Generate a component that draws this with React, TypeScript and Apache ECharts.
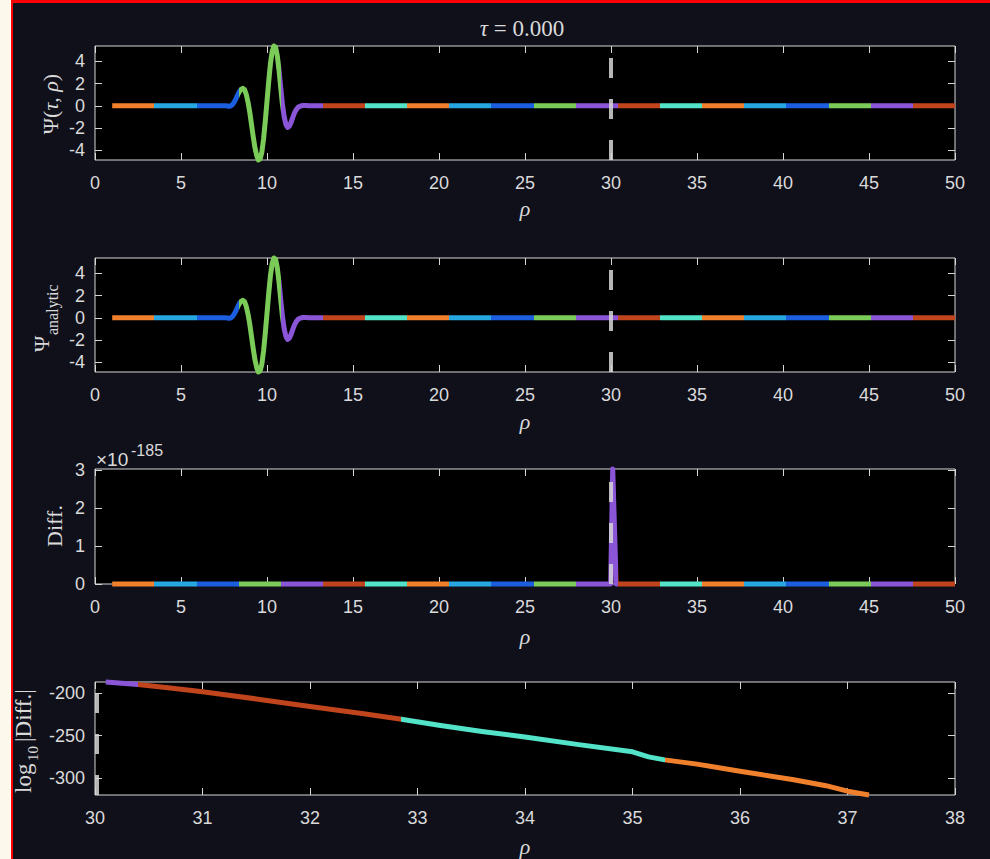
import React, { useEffect, useRef } from 'react';
import * as echarts from 'echarts';

// ---- data -------------------------------------------------------------

// radial grid for the wave packet (the field is flat outside 7.5 < rho < 12.4)
const waveRho = [
  1, 7.5, 7.6, 7.7, 7.8, 7.9, 8.0, 8.1, 8.2, 8.3, 8.4, 8.5, 8.6, 8.7, 8.8, 8.9,
  9.0, 9.1, 9.2, 9.3, 9.4, 9.5, 9.6, 9.7, 9.8, 9.9, 10.0, 10.1, 10.2, 10.3, 10.4,
  10.5, 10.6, 10.7, 10.8, 10.9, 11.0, 11.1, 11.2, 11.3, 11.4, 11.5, 11.6, 11.7,
  11.8, 11.9, 12.0, 12.1, 12.2, 12.3, 12.4, 50,
];
// numerical solution Psi(tau, rho) at tau = 0
const psiNumeric = [
  0, 0, 0, -0.02, -0.05, 0.0, 0.12, 0.35, 0.65, 1.0, 1.3, 1.5, 1.57, 1.45, 1.0, 0.3,
  -0.6, -1.7, -2.8, -3.8, -4.5, -4.9, -4.8, -4.2, -3.0, -1.4, 0.4, 2.2, 3.8, 4.9, 5.4,
  5.3, 4.5, 3.2, 1.6, 0.1, -1.0, -1.7, -1.95, -1.85, -1.5, -1.05, -0.65, -0.35,
  -0.15, -0.05, 0.0, 0.03, 0.03, 0.02, 0, 0,
];
// analytic solution (identical at tau = 0)
const psiAnalytic = [
  0, 0, 0, -0.02, -0.05, 0.0, 0.12, 0.35, 0.65, 1.0, 1.3, 1.5, 1.57, 1.45, 1.0, 0.3,
  -0.6, -1.7, -2.8, -3.8, -4.5, -4.9, -4.8, -4.2, -3.0, -1.4, 0.4, 2.2, 3.8, 4.9, 5.4,
  5.3, 4.5, 3.2, 1.6, 0.1, -1.0, -1.7, -1.95, -1.85, -1.5, -1.05, -0.65, -0.35,
  -0.15, -0.05, 0.0, 0.03, 0.03, 0.02, 0, 0,
];

// |numeric - analytic|, in units of 1e-185
const diffExponent = -185;
const diffRho = [1, 29.98, 30.1, 30.3, 50];
const diffValue = [0, 0, 3.02, 0, 0];

// log10 |Diff.| on the zoomed window 30 <= rho <= 38
const logRho = [
  30.1, 30.4, 30.7, 31.0, 31.5, 32.0, 32.5, 32.85, 33.2, 33.6, 34.0, 34.5, 35.0,
  35.15, 35.3, 35.6, 36.0, 36.5, 36.8, 37.0, 37.2,
];
const logValue = [
  -186.5, -189.5, -193.5, -198, -206.5, -215.5, -224, -230.5, -237.5, -245, -251.5,
  -260.5, -269, -275, -278.5, -283.5, -292, -302, -309, -315.5, -320,
];

// colour segments along rho
const segmentEdges = [
  1, 3.45, 5.9, 8.35, 10.8, 13.25, 15.7, 18.15, 20.6, 23.05, 25.5, 27.95, 30.4,
  32.85, 35.3, 37.75, 40.2, 42.65, 45.1, 47.55, 50,
];
const ORANGE = '#f0802c';
const SKY = '#27a7e2';
const BLUE = '#1c5ee0';
const GREEN = '#7acb58';
const PURPLE = '#8b55d8';
const RUST = '#c0441c';
const AQUA = '#52e3c9';
const segmentColors = [
  ORANGE, SKY, BLUE, GREEN, PURPLE, RUST, AQUA,
  ORANGE, SKY, BLUE, GREEN, PURPLE, RUST, AQUA,
  ORANGE, SKY, BLUE, GREEN, PURPLE, RUST,
];

// axis ticks
const rhoTicksWide = { min: 0, max: 50, interval: 5 };
const rhoTicksZoom = { min: 30, max: 38, interval: 1 };
const psiTicks = [-4, -2, 0, 2, 4];
const diffTicks = [0, 1, 2, 3];
const logTicks = [-300, -250, -200];
const markerRho = 30;

// ---- styling ----------------------------------------------------------

const SERIF = '"Liberation Serif", "DejaVu Serif", serif';
const SANS = '"Liberation Sans", Arial, sans-serif';
const AXIS_COLOR = '#d6d6d6';
const TEXT_COLOR = '#dadada';

const pairs = (xs: number[], ys: number[]) => xs.map((x, i) => [x, ys[i]]);

type Panel = {
  grid: { left: number; top: number; width: number; height: number };
  x: { min: number; max: number; interval: number };
  yMin: number;
  yMax: number;
  yTicks: number[];
  data: number[][];
  mark: number;
};

const panels: Panel[] = [
  {
    grid: { left: 95, top: 46, width: 860, height: 114 },
    x: rhoTicksWide, yMin: -4.9, yMax: 5.4, yTicks: psiTicks,
    data: pairs(waveRho, psiNumeric), mark: markerRho,
  },
  {
    grid: { left: 95, top: 258, width: 860, height: 114 },
    x: rhoTicksWide, yMin: -4.9, yMax: 5.4, yTicks: psiTicks,
    data: pairs(waveRho, psiAnalytic), mark: markerRho,
  },
  {
    grid: { left: 95, top: 469, width: 860, height: 115 },
    x: rhoTicksWide, yMin: 0, yMax: 3.02, yTicks: diffTicks,
    data: pairs(diffRho, diffValue), mark: markerRho,
  },
  {
    grid: { left: 95, top: 682, width: 860, height: 113 },
    x: rhoTicksZoom, yMin: -320, yMax: -186.5, yTicks: logTicks,
    data: pairs(logRho, logValue), mark: markerRho + 0.02,
  },
];

const labelStyle = { color: TEXT_COLOR, fontFamily: SANS, fontSize: 18 };
const innerTick = (extra: object = {}) => ({
  show: true, inside: true, length: 7, lineStyle: { color: AXIS_COLOR, width: 1 }, ...extra,
});
// the box is drawn by the grid border; axes stay on the box edges
const hiddenLine = { show: false, onZero: false };

function buildOption() {
  const grid = panels.map((p) => ({
    ...p.grid,
    show: true,
    backgroundColor: '#000000',
    borderColor: AXIS_COLOR,
    borderWidth: 1,
  }));

  const xAxis: any[] = [];
  const yAxis: any[] = [];
  panels.forEach((p, i) => {
    const xBase = {
      gridIndex: i, type: 'value', min: p.x.min, max: p.x.max, interval: p.x.interval,
      axisLine: hiddenLine, splitLine: { show: false },
    };
    xAxis.push({ ...xBase, position: 'bottom', axisTick: innerTick(), axisLabel: { ...labelStyle, margin: 14 } });
    xAxis.push({ ...xBase, position: 'top', axisTick: innerTick(), axisLabel: { show: false } });

    const yBase = {
      gridIndex: i, type: 'value', min: p.yMin, max: p.yMax,
      axisLine: hiddenLine, splitLine: { show: false },
    };
    yAxis.push({
      ...yBase, position: 'left',
      axisTick: innerTick({ customValues: p.yTicks }),
      axisLabel: { ...labelStyle, margin: 10, customValues: p.yTicks },
    });
    yAxis.push({
      ...yBase, position: 'right',
      axisTick: innerTick({ customValues: p.yTicks }),
      axisLabel: { show: false, customValues: p.yTicks },
    });
  });

  const series = panels.map((p, i) => ({
    type: 'line',
    xAxisIndex: 2 * i,
    yAxisIndex: 2 * i,
    data: p.data,
    symbol: 'none',
    showSymbol: false,
    clip: false,
    z: 3,
    lineStyle: { width: 5, cap: 'butt', join: 'round' },
    markLine: {
      silent: true,
      symbol: ['none', 'none'],
      label: { show: false },
      lineStyle: { color: 'rgba(214,214,214,0.85)', width: 4, type: [20, 21] },
      data: [{ xAxis: p.mark }],
    },
  }));

  const pieces = segmentColors.map((color, i) => ({
    gte: segmentEdges[i],
    ...(i === segmentColors.length - 1 ? { lte: segmentEdges[i + 1] } : { lt: segmentEdges[i + 1] }),
    color,
  }));

  const rhoLabel = (y: number) => ({
    type: 'text', x: 525, y,
    style: { text: 'ρ', fill: TEXT_COLOR, font: `italic 22px ${SERIF}`, align: 'center', verticalAlign: 'middle' },
  });

  const graphic: any[] = [
    {
      type: 'text', x: 522, y: 28,
      style: {
        text: '{i|τ}{u| = 0.000}',
        align: 'center', verticalAlign: 'middle',
        rich: {
          i: { fill: TEXT_COLOR, font: `italic 23px ${SERIF}` },
          u: { fill: TEXT_COLOR, font: `23px ${SERIF}` },
        },
      },
    },
    rhoLabel(208),
    rhoLabel(421),
    rhoLabel(636),
    rhoLabel(846),
    // Psi(tau, rho)
    {
      type: 'text', x: 50, y: 104, rotation: Math.PI / 2,
      style: {
        text: '{u|Ψ(}{i|τ}{u|, }{i|ρ}{u|)}',
        align: 'center', verticalAlign: 'middle',
        rich: {
          i: { fill: TEXT_COLOR, font: `italic 22px ${SERIF}` },
          u: { fill: TEXT_COLOR, font: `22px ${SERIF}` },
        },
      },
    },
    // Psi_analytic
    {
      type: 'group', x: 52, y: 352, rotation: Math.PI / 2,
      children: [
        { type: 'text', x: 0, y: 0, style: { text: 'Ψ', fill: TEXT_COLOR, font: `22px ${SERIF}`, align: 'left', verticalAlign: 'bottom' } },
        { type: 'text', x: 17, y: 8, style: { text: 'analytic', fill: TEXT_COLOR, font: `16px ${SERIF}`, align: 'left', verticalAlign: 'bottom' } },
      ],
    },
    // Diff.
    {
      type: 'text', x: 54, y: 526, rotation: Math.PI / 2,
      style: { text: 'Diff.', fill: TEXT_COLOR, font: `22px ${SERIF}`, align: 'center', verticalAlign: 'middle' },
    },
    // log10 |Diff.|
    {
      type: 'group', x: 35, y: 793, rotation: Math.PI / 2,
      children: [
        { type: 'text', x: 0, y: 0, style: { text: 'log', fill: TEXT_COLOR, font: `23px ${SERIF}`, align: 'left', verticalAlign: 'bottom' } },
        { type: 'text', x: 32, y: 5, style: { text: '10', fill: TEXT_COLOR, font: `15px ${SERIF}`, align: 'left', verticalAlign: 'bottom' } },
        { type: 'text', x: 51, y: 0, style: { text: '|Diff.|', fill: TEXT_COLOR, font: `23px ${SERIF}`, align: 'left', verticalAlign: 'bottom' } },
      ],
    },
    // exponent of the Diff. axis
    { type: 'text', x: 96, y: 469, style: { text: '×10', fill: TEXT_COLOR, font: `19px ${SANS}`, align: 'left', verticalAlign: 'bottom' } },
    { type: 'text', x: 131, y: 458, style: { text: String(diffExponent), fill: TEXT_COLOR, font: `16px ${SANS}`, align: 'left', verticalAlign: 'bottom' } },
  ];

  return {
    animation: false,
    backgroundColor: 'transparent',
    grid,
    xAxis,
    yAxis,
    visualMap: {
      type: 'piecewise', show: false, dimension: 0, seriesIndex: [0, 1, 2, 3], pieces,
    },
    series,
    graphic,
  };
}

export default function App() {
  const ref = useRef<HTMLDivElement>(null);

  useEffect(() => {
    document.body.style.margin = '0';
    if (!ref.current) return;
    const chart = echarts.init(ref.current, null, { renderer: 'svg' });
    chart.setOption(buildOption() as any);
    return () => chart.dispose();
  }, []);

  return (
    <div style={{ position: 'relative', width: 990, height: 859, background: '#fdf8ec', overflow: 'hidden' }}>
      <div
        style={{
          position: 'absolute', left: 11, top: 0, width: 979, height: 859, boxSizing: 'border-box',
          borderLeft: '2px solid #ff0000', borderTop: '3px solid #ff0000', background: '#10101a',
        }}
      />
      <div ref={ref} style={{ position: 'absolute', left: 0, top: 0, width: 990, height: 859 }} />
    </div>
  );
}
